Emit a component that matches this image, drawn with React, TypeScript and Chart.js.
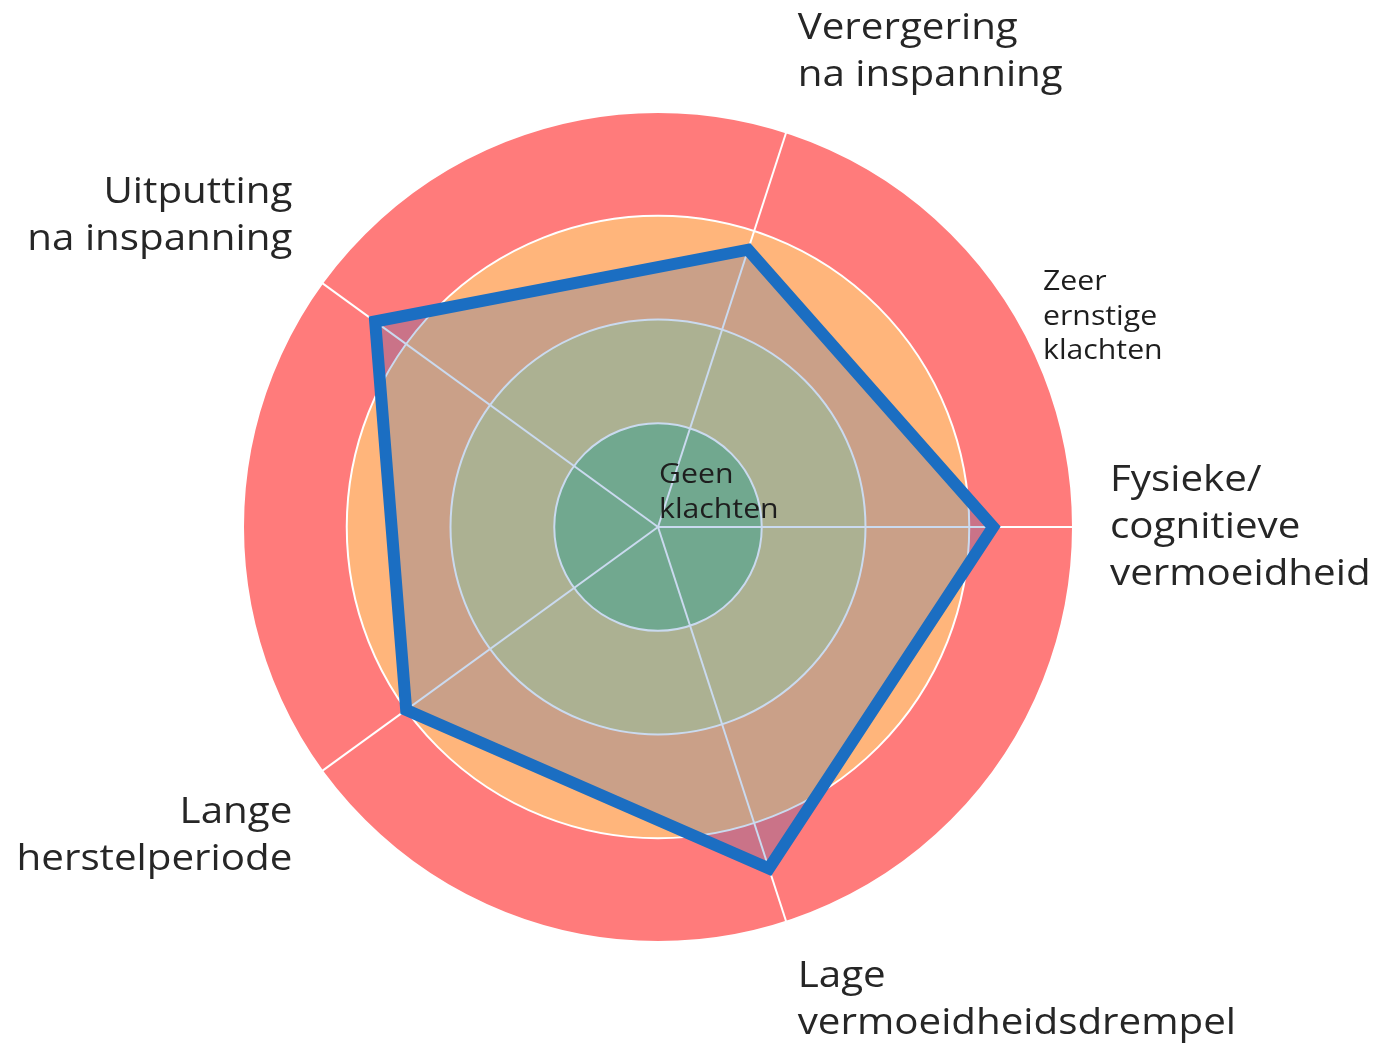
import React, { useEffect, useRef } from 'react';
import { Chart, registerables } from 'chart.js';

Chart.register(...registerables);

// Axis categories (multi-line labels), clockwise from upper right
const axisLabels: string[][] = [
  ['Verergering', 'na inspanning'],
  ['Fysieke/', 'cognitieve', 'vermoeidheid'],
  ['Lage', 'vermoeidheidsdrempel'],
  ['Lange', 'herstelperiode'],
  ['Uitputting', 'na inspanning'],
];

// Series values (0 = geen klachten, 4 = zeer ernstige klachten)
const scores: number[] = [2.81, 3.23, 3.46, 3.0, 3.37];

// Background severity bands (outer limit of each band)
const bandLimits: number[] = [4, 3, 2, 1];
const bandColors: string[] = ['#ff7b7b', '#ffb57b', '#d9cb88', '#8dbf84'];

// Annotation texts
const centerNote: string[] = ['Geen', 'klachten'];
const outerNote: string[] = ['Zeer', 'ernstige', 'klachten'];

const FONT = '"Open Sans", "Noto Sans", sans-serif';
const WIDEN = 1.12;

function wideText(ctx: CanvasRenderingContext2D, text: string, x: number, y: number) {
  ctx.save();
  ctx.translate(x, y);
  ctx.scale(WIDEN, 1);
  ctx.fillText(text, 0, 0);
  ctx.restore();
}

const bandsPlugin = {
  id: 'bands',
  beforeDraw(chart: any) {
    const s = chart.scales.r;
    const ctx = chart.ctx;
    ctx.save();
    bandLimits.forEach((v, i) => {
      ctx.beginPath();
      ctx.arc(s.xCenter, s.yCenter, s.getDistanceFromCenterForValue(v), 0, Math.PI * 2);
      ctx.fillStyle = bandColors[i];
      ctx.fill();
    });
    ctx.restore();
  },
};

const textPlugin = {
  id: 'axisText',
  afterDraw(chart: any) {
    const s = chart.scales.r;
    const ctx = chart.ctx;
    ctx.save();
    ctx.fillStyle = '#262626';
    ctx.font = `36px ${FONT}`;
    ctx.textBaseline = 'alphabetic';
    const step = 47;
    const blockLine = 44;
    axisLabels.forEach((lines, i) => {
      const p = s.getPointPosition(i, s.drawingArea + 37);
      const deg = Math.round((((p.angle + Math.PI / 2) * 180) / Math.PI + 720) % 360);
      const h = lines.length * blockLine;
      let top: number;
      if (deg === 90 || deg === 270) top = p.y - h / 2;
      else if (deg > 270 || deg < 90) top = p.y - h;
      else top = p.y;
      const align = deg === 0 || deg === 180 ? 'center' : deg < 180 ? 'left' : 'right';
      ctx.textAlign = align;
      lines.forEach((t, j) => wideText(ctx, t, p.x, top + 30 + j * step));
    });

    ctx.font = `27px ${FONT}`;
    ctx.textAlign = 'left';
    ctx.fillStyle = '#1e1e1e';
    centerNote.forEach((t, j) => wideText(ctx, t, s.xCenter + 1, s.yCenter - 44 + j * 35));
    outerNote.forEach((t, j) => wideText(ctx, t, s.xCenter + 385, s.yCenter - 237 + j * 34.5));
    ctx.restore();
  },
};

export default function App() {
  const canvasRef = useRef<HTMLCanvasElement | null>(null);

  useEffect(() => {
    if (!canvasRef.current) return;
    const chart = new Chart(canvasRef.current, {
      type: 'radar',
      data: {
        labels: axisLabels.map((l) => l.join(' ')),
        datasets: [
          {
            data: scores,
            fill: true,
            backgroundColor: 'rgba(12, 88, 180, 0.22)',
            borderColor: '#1b6ec2',
            borderWidth: 12,
            borderJoinStyle: 'miter',
            pointRadius: 0,
            pointHoverRadius: 0,
          },
        ],
      },
      options: {
        animation: false,
        responsive: true,
        maintainAspectRatio: false,
        layout: { padding: { left: 243, right: 307, top: 112, bottom: 102 } },
        plugins: { legend: { display: false }, tooltip: { enabled: false } },
        scales: {
          r: {
            min: 0,
            max: 4,
            startAngle: 18,
            ticks: { display: false, stepSize: 1 },
            grid: { circular: true, color: '#ffffff', lineWidth: 2 },
            angleLines: { color: '#ffffff', lineWidth: 2 },
            pointLabels: { display: false },
          },
        },
      },
      plugins: [bandsPlugin, textPlugin],
    } as any);
    return () => chart.destroy();
  }, []);

  return (
    <div
      style={{
        position: 'fixed',
        left: 0,
        top: 0,
        width: '1380px',
        height: '1044px',
        background: '#ffffff',
      }}
    >
      <canvas ref={canvasRef} />
    </div>
  );
}
